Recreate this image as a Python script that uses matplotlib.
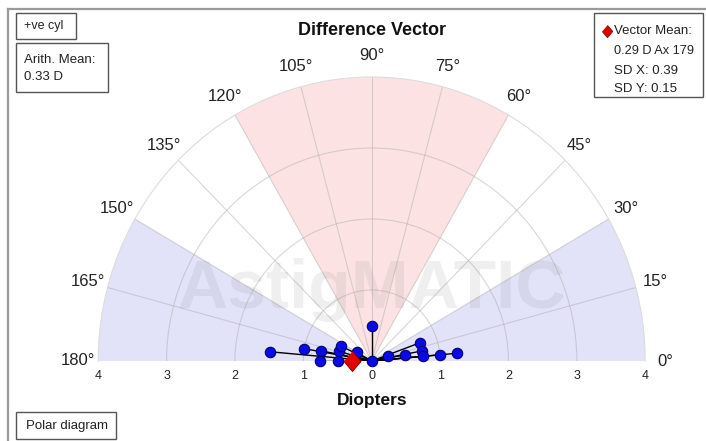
import numpy as np
import matplotlib
matplotlib.use("Agg")
import matplotlib.pyplot as plt
from matplotlib.patches import Rectangle
from matplotlib.lines import Line2D

# ---- data ----
magnitudes = [1.50, 1.00, 0.75, 0.75, 0.50, 0.50, 0.50, 0.25, 0.50, 0.00,
              0.25, 0.50, 0.75, 0.75, 0.75, 1.00, 1.25]
axes_deg = [175, 170, 169, 180, 180, 164, 155, 151, 90, 0,
            15, 10, 20, 11, 5, 5, 5]
mean_magnitude = 0.29
mean_axis = 179
blue_sectors = [(0, 30), (150, 180)]
red_sectors = [(60, 120)]
angle_labels = list(range(0, 181, 15))
radial_ticks = [0, 1, 2, 3, 4]

W, H = 706, 441
plt.rcParams['font.family'] = ['Liberation Sans', 'DejaVu Sans']

fig = plt.figure(figsize=(W / 100, H / 100), dpi=100)


def fx(x):
    return x / W


def fy(y):
    return 1 - y / H


# target geometry of the half-disc (pixels, top-left origin)
cx, cy = 371.7, 361.0
rx, ry = 273.5, 284.0

ax = fig.add_axes([0.14, 0.18, 0.77, 0.64], projection='polar')
ax.set_thetamin(0)
ax.set_thetamax(180)
ax.set_ylim(0, 4)
ax.set_aspect('auto')
ax.set_xticks(np.deg2rad(np.arange(15, 166, 15)))
ax.set_xticklabels([])
ax.set_yticks([1, 2, 3])
ax.set_yticklabels([])
ax.tick_params(length=0)
ax.grid(True, color='#b0b0b0', alpha=0.5, lw=0.8)
ax.spines['polar'].set_color('#dcdcdc')
ax.spines['polar'].set_linewidth(0.8)
for s in ('start', 'end', 'inner'):
    ax.spines[s].set_color('none')
    ax.spines[s].set_linewidth(0)
ax.patch.set_facecolor('white')

# fit the axes box so the half-disc lands on the target pixels
for _ in range(3):
    fig.canvas.draw()
    bb = ax.get_position()
    L, B, Wd, Ht = bb.x0 * W, bb.y0 * H, bb.width * W, bb.height * H
    p0 = ax.transData.transform((0, 0))
    pxr = ax.transData.transform((0, 4))
    pyr = ax.transData.transform((np.pi / 2, 4))
    cfx, cfy = (p0[0] - L) / Wd, (p0[1] - B) / Ht
    rfx, rfy = (pxr[0] - p0[0]) / Wd, (pyr[1] - p0[1]) / Ht
    Wn, Hn = rx / rfx, ry / rfy
    Ln, Bn = cx - cfx * Wn, (H - cy) - cfy * Hn
    ax.set_position([Ln / W, Bn / H, Wn / W, Hn / H])

# shaded sectors
for a0, a1 in blue_sectors:
    ax.bar(np.deg2rad((a0 + a1) / 2), 4, width=np.deg2rad(a1 - a0), bottom=0,
           color='#e2e2f9', edgecolor='none', zorder=1)
for a0, a1 in red_sectors:
    ax.bar(np.deg2rad((a0 + a1) / 2), 4, width=np.deg2rad(a1 - a0), bottom=0,
           color='#fde2e3', edgecolor='none', zorder=1)

# watermark
ax.text(fx(371.5), fy(308), "AstigMATIC", transform=fig.transFigure,
        ha='center', va='baseline', fontsize=50, fontweight='bold',
        color='#808080', alpha=0.12, zorder=1.7)

theta = np.deg2rad(axes_deg)
ax.vlines(theta, 0, magnitudes, color='black', lw=1.0, zorder=3)
ax.plot(theta, magnitudes, 'o', ms=7.5, mfc='#0a0ae6', mec='#000070',
        mew=0.8, zorder=4, clip_on=False)

diamond = [(0, 1), (0.85, 0), (0, -1), (-0.85, 0)]
ax.plot([np.deg2rad(mean_axis)], [mean_magnitude], marker=diamond, ms=14.5,
        mfc='#e00000', mec='#800000', mew=0.6, zorder=5, clip_on=False)

# angle labels
for a in angle_labels:
    ax.text(np.deg2rad(a), 4.3, f"{a}°", ha='center', va='center',
            fontsize=12, color='#222222', clip_on=False)

# radial labels along baseline
for r in radial_ticks:
    sides = [0] if r == 0 else [0, np.pi]
    for t in sides:
        ax.annotate(str(r), xy=(t, r), xytext=(0, -11), textcoords='offset points',
                    ha='center', va='center', fontsize=9, color='#222222',
                    annotation_clip=False)

fig.text(fx(371.7), fy(30.5), "Difference Vector", ha='center', va='center',
         fontsize=13, fontweight='bold', color='#111111')
fig.text(fx(371.7), fy(401), "Diopters", ha='center', va='center',
         fontsize=12.5, fontweight='bold', color='#111111')

# outer frame
fig.add_artist(Line2D([fx(8), fx(8)], [fy(9), 0], transform=fig.transFigure,
                      color='#9a9a9a', lw=1.6))
fig.add_artist(Line2D([fx(8), 1], [fy(9), fy(9)], transform=fig.transFigure,
                      color='#9a9a9a', lw=1.6))


def box(x0, y0, x1, y1):
    fig.add_artist(Rectangle((fx(x0), fy(y1)), (x1 - x0) / W, (y1 - y0) / H,
                             transform=fig.transFigure, facecolor='white',
                             edgecolor='#555555', lw=1.0))


box(16, 13, 76, 39)
fig.text(fx(24), fy(26.5), "+ve cyl", ha='left', va='center', fontsize=9, color='#222222')
box(16, 43, 108, 92)
fig.text(fx(24), fy(60), "Arith. Mean:", ha='left', va='center', fontsize=9.5, color='#222222')
fig.text(fx(24), fy(77.5), "0.33 D", ha='left', va='center', fontsize=9.5, color='#222222')
box(16, 412, 116, 439)
fig.text(fx(26), fy(426), "Polar diagram", ha='left', va='center', fontsize=9.5, color='#222222')

box(594, 13, 703, 97)
fig.add_artist(Line2D([fx(607)], [fy(31)], transform=fig.transFigure, marker=diamond,
                      ms=9, mfc='#e00000', mec='#800000', mew=0.5, ls='none'))
fig.text(fx(614), fy(31), "Vector Mean:", ha='left', va='center', fontsize=9.5, color='#222222')
fig.text(fx(614), fy(51.5), f"{mean_magnitude:.2f} D Ax {mean_axis}", ha='left', va='center',
         fontsize=9.2, color='#222222')
fig.text(fx(614), fy(70.5), "SD X: 0.39", ha='left', va='center', fontsize=9.5, color='#222222')
fig.text(fx(614), fy(88.5), "SD Y: 0.15", ha='left', va='center', fontsize=9.5, color='#222222')

fig.savefig("out.png", dpi=100, facecolor='white')
